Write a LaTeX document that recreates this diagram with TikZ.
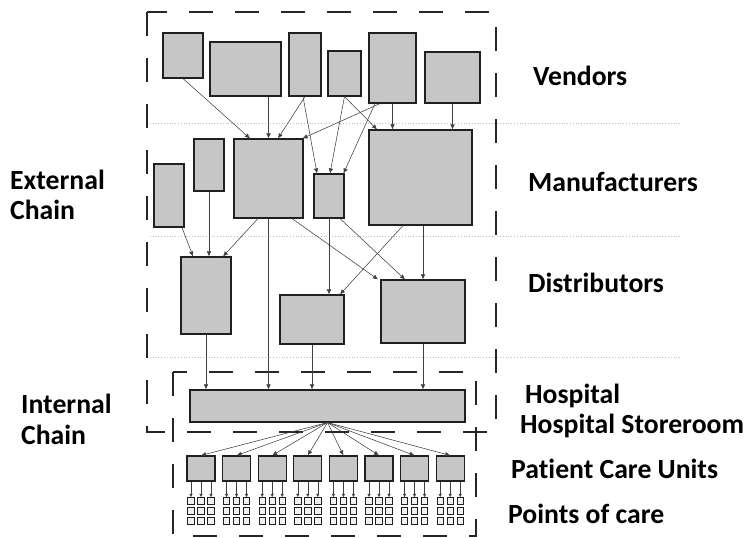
\documentclass[tikz,border=0pt]{standalone}
\usepackage{fontspec}
\setmainfont{Carlito}[Ligatures=NoCommon]
\usetikzlibrary{arrows.meta}

\tikzset{
  ubox/.style={draw=gray!25!black, fill=gray!45, line width=1.1pt, inner sep=0pt},
  poc/.style={draw=gray!25!black, fill=gray!10, line width=0.8pt, inner sep=0pt, minimum size=6.5pt},
  flow/.style={draw=gray!50!black, line width=0.55pt, -{Latex[length=5pt,width=4.5pt]}},
  smallflow/.style={draw=gray!50!black, line width=0.55pt, -{Latex[length=3.5pt,width=3.5pt]}},
  chainbox/.style={draw=black!85, line width=2.6pt, dash pattern=on 24pt off 22pt},
  tier/.style={draw=gray!50, dotted, line width=0.8pt},
  lbl/.style={font=\bfseries\fontsize{27.7}{32}\selectfont, anchor=base west, inner sep=0pt},
}

\begin{document}
\begin{tikzpicture}[x=1pt, y=-1pt]
    \useasboundingbox (0,0) rectangle (750,538);

    % tier separators
    \draw[tier] (150,123) -- (680,123);
    \draw[tier] (150,236) -- (680,236);
    \draw[tier] (150,357) -- (680,357);

    % external and internal chain
    \draw[chainbox] (147,12) rectangle (496,432);
    \draw[chainbox] (173,372) rectangle (476,536);

    % vendors
    \node[ubox, minimum width=40pt, minimum height=45pt] (V1) at (183,55.5) {};
    \node[ubox, minimum width=71pt, minimum height=54pt] (V2) at (245.5,69) {};
    \node[ubox, minimum width=32pt, minimum height=63pt] (V3) at (305,64.5) {};
    \node[ubox, minimum width=33pt, minimum height=45pt] (V4) at (344.5,73.5) {};
    \node[ubox, minimum width=47pt, minimum height=70pt] (V5) at (392.5,68) {};
    \node[ubox, minimum width=55pt, minimum height=51pt] (V6) at (452.5,77.5) {};

    % manufacturers
    \node[ubox, minimum width=30pt, minimum height=63pt] (M1) at (169,195.5) {};
    \node[ubox, minimum width=30pt, minimum height=52pt] (M2) at (209,165) {};
    \node[ubox, minimum width=69pt, minimum height=79pt] (M3) at (268.5,178.5) {};
    \node[ubox, minimum width=30pt, minimum height=44pt] (M4) at (329,196) {};
    \node[ubox, minimum width=103pt, minimum height=95pt] (M5) at (420.5,177.5) {};

    % distributors
    \node[ubox, minimum width=50pt, minimum height=77pt] (D1) at (206,295.5) {};
    \node[ubox, minimum width=64pt, minimum height=49pt] (D2) at (312,319.5) {};
    \node[ubox, minimum width=84pt, minimum height=63pt] (D3) at (423,311.5) {};

    % hospital storeroom
    \node[ubox, minimum width=275pt, minimum height=32pt] (H) at (327.5,406) {};

    % vendors to manufacturers
    \draw[flow] (V1.south) -- ([xshift=-18.5pt]M3.north);
    \draw[flow] (M3.north |- V2.south) -- (M3.north);
    \draw[flow] (V3.south) -- ([xshift=9.5pt]M3.north);
    \draw[flow] ([xshift=-2pt]V3.south) -- ([xshift=-12pt]M4.north);
    \draw[flow] (V4.south) -- ([xshift=1pt]M4.north);
    \draw[flow] (V4.south) -- ([xshift=-43.5pt]M5.north);
    \draw[flow] ([xshift=-12.5pt]V5.south) -- ([xshift=-1pt]M3.north east);
    \draw[flow] ([xshift=-17.5pt]V5.south) -- ([xshift=-1pt]M4.north east);
    \draw[flow] (V5.south) -- (V5.south |- M5.north);
    \draw[flow] (V6.south) -- (V6.south |- M5.north);

    % manufacturers to distributors
    \draw[flow] ([xshift=13pt]M1.south) -- ([xshift=-13pt]D1.north);
    \draw[flow] (M2.south) -- (M2.south |- D1.north);
    \draw[flow] ([xshift=-10.5pt]M3.south) -- ([xshift=17pt]D1.north);
    \draw[flow] ([xshift=23.5pt]M3.south) -- ([xshift=-45pt]D3.north);
    \draw[flow] (M4.south) -- (M4.south |- D2.north);
    \draw[flow] ([xshift=11pt]M4.south) -- ([xshift=-18pt]D3.north);
    \draw[flow] ([xshift=-17.5pt]M5.south) -- ([xshift=28pt]D2.north);
    \draw[flow] (D3.north |- M5.south) -- (D3.north);

    % into the hospital
    \draw[flow] (M3.south) -- (M3.south |- H.north);
    \draw[flow] (D1.south) -- (D1.south |- H.north);
    \draw[flow] (D2.south) -- (D2.south |- H.north);
    \draw[flow] (D3.south) -- (D3.south |- H.north);

    % patient care units and points of care
    \foreach \i in {1,...,8} {
        \node[ubox, minimum width=28pt, minimum height=25pt] (P\i) at ({201+35.6*(\i-1)},468.5) {};
        \draw[flow] (H.south) -- (P\i.north);
        \foreach \c in {1,2,3} {
            \foreach \r in {1,2,3}
                \node[poc] (Q\i-\c-\r) at ({201+35.6*(\i-1)+10*(\c-2)},{491+10*\r}) {};
            \draw[smallflow] ([xshift={10pt*(\c-2)}]P\i.south) -- (Q\i-\c-1.north);
        }
    }

    % labels
    \node[lbl] (lvend) at (533,85) {Vendors};
    \node[lbl] (lmanu) at (528,191) {Manufacturers};
    \node[lbl] (ldist) at (528,292) {Distributors};
    \node[lbl] (lhosp) at (525,403) {Hospital};
    \node[lbl] (lstore) at (520,433) {Hospital Storeroom};
    \node[lbl] (lpcu) at (511,478) {Patient Care Units};
    \node[lbl] (lpoc) at (508,523) {Points of care};
    \node[lbl] (lext1) at (10,189) {External};
    \node[lbl] (lext2) at (10,219) {Chain};
    \node[lbl] (lint1) at (21,413) {Internal};
    \node[lbl] (lint2) at (21,444) {Chain};
\end{tikzpicture}
\end{document}
